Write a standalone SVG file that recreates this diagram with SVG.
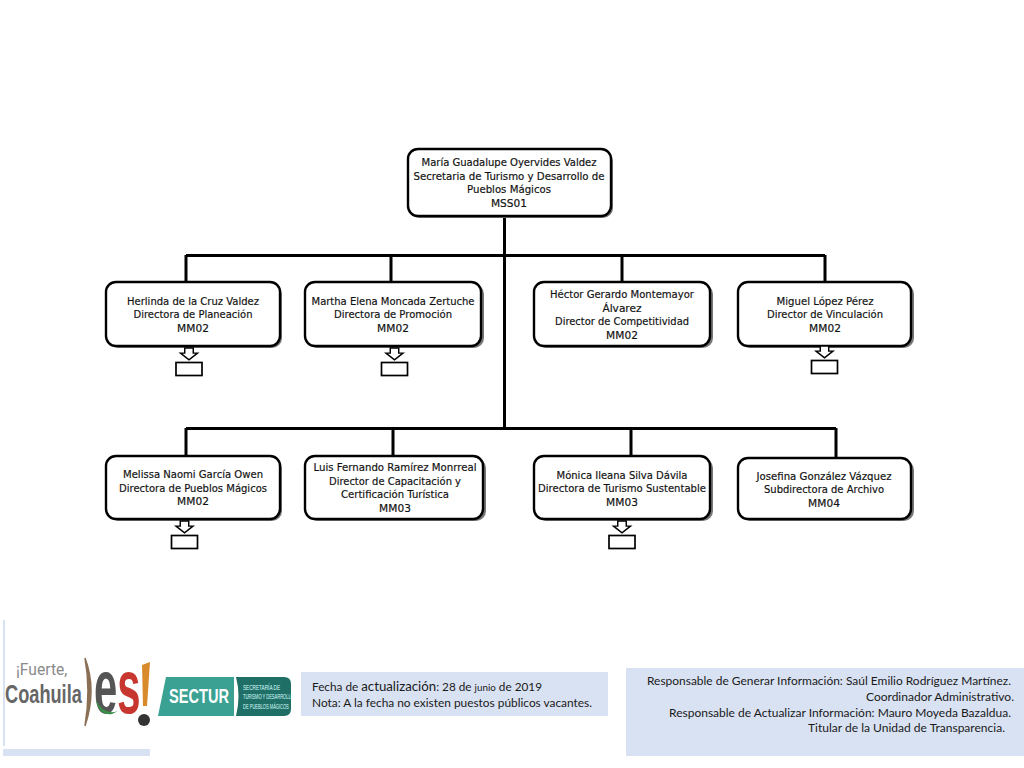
<svg xmlns="http://www.w3.org/2000/svg" width="1024" height="768" viewBox="0 0 1024 768">
<style>
.box{fill:#fff;stroke:#000;stroke-width:2.4}
.sh{fill:#777}
.t text{font-family:"DejaVu Sans",Verdana,sans-serif;font-size:10.6px;fill:#111;stroke:#111;stroke-width:.18;text-anchor:middle}
.c{stroke:#000;stroke-width:3;fill:none}
.sm{fill:#fff;stroke:#000;stroke-width:1.7}
.n text{font-family:Lato,"Open Sans",sans-serif;font-size:12px;fill:#1a1a1a}
</style>
<defs>
<g id="down"><path class="sm" d="M-5 0H5V6H10L0 14L-10 6H-5Z" transform="scale(.85 .85)"/><rect class="sm" x="-13" y="14.500" width="26" height="13"/></g>
</defs>
<rect width="1024" height="768" fill="#fff"/>
<g id="connectors">
<path class="c" d="M504.500 216V428M186 255.500H825M186 255V282M391 255V282M622 255V282M825 255V282M186 428.500H836M186 428V456M393 428V456M631 428V456M836 428V458"/>
</g>
<g id="n0" class="t"><rect class="sh" x="409" y="151" width="204" height="67" rx="10"/><rect class="box" x="408" y="149" width="203" height="67" rx="10"/>
<text x="509" y="166" textLength="175" lengthAdjust="spacingAndGlyphs">María Guadalupe Oyervides Valdez</text><text x="509" y="179.500" textLength="191" lengthAdjust="spacingAndGlyphs">Secretaria de Turismo y Desarrollo de</text><text x="509" y="193" textLength="84" lengthAdjust="spacingAndGlyphs">Pueblos Mágicos</text><text x="509" y="207">MSS01</text></g>
<g id="n1" class="t"><rect class="sh" x="108" y="284" width="174" height="64" rx="10"/><rect class="box" x="106" y="282" width="174" height="64" rx="10"/>
<text x="193" y="305" textLength="132" lengthAdjust="spacingAndGlyphs">Herlinda de la Cruz Valdez</text><text x="193" y="318" textLength="119" lengthAdjust="spacingAndGlyphs">Directora de Planeación</text><text x="193" y="332">MM02</text></g>
<g id="n2" class="t"><rect class="sh" x="307" y="284" width="177" height="64" rx="10"/><rect class="box" x="305" y="282" width="176" height="64" rx="10"/>
<text x="393" y="305" textLength="163" lengthAdjust="spacingAndGlyphs">Martha Elena Moncada Zertuche</text><text x="393" y="318" textLength="118" lengthAdjust="spacingAndGlyphs">Directora de Promoción</text><text x="393" y="332">MM02</text></g>
<g id="n3" class="t"><rect class="sh" x="536" y="284" width="177" height="64" rx="10"/><rect class="box" x="534" y="282" width="176" height="64" rx="10"/>
<text x="622" y="298" textLength="144" lengthAdjust="spacingAndGlyphs">Héctor Gerardo Montemayor</text><text x="622" y="312">Álvarez</text><text x="622" y="325" textLength="134" lengthAdjust="spacingAndGlyphs">Director de Competitividad</text><text x="622" y="339">MM02</text></g>
<g id="n4" class="t"><rect class="sh" x="740" y="284" width="174" height="64" rx="10"/><rect class="box" x="738" y="282" width="173" height="64" rx="10"/>
<text x="825" y="305" textLength="97" lengthAdjust="spacingAndGlyphs">Miguel López Pérez</text><text x="825" y="318" textLength="116" lengthAdjust="spacingAndGlyphs">Director de Vinculación</text><text x="825" y="332">MM02</text></g>
<g id="n5" class="t"><rect class="sh" x="108" y="458" width="174" height="63" rx="10"/><rect class="box" x="106" y="456" width="174" height="63" rx="10"/>
<text x="193" y="478" textLength="140" lengthAdjust="spacingAndGlyphs">Melissa Naomi García Owen</text><text x="193" y="492" textLength="148" lengthAdjust="spacingAndGlyphs">Directora de Pueblos Mágicos</text><text x="193" y="505">MM02</text></g>
<g id="n6" class="t"><rect class="sh" x="307" y="458" width="179" height="63" rx="10"/><rect class="box" x="305" y="456" width="178" height="63" rx="10"/>
<text x="395" y="471" textLength="163" lengthAdjust="spacingAndGlyphs">Luis Fernando Ramírez Monrreal</text><text x="395" y="485" textLength="132" lengthAdjust="spacingAndGlyphs">Director de Capacitación y</text><text x="395" y="498" textLength="108" lengthAdjust="spacingAndGlyphs">Certificación Turística</text><text x="395" y="512">MM03</text></g>
<g id="n7" class="t"><rect class="sh" x="536" y="458" width="177" height="63" rx="10"/><rect class="box" x="534" y="456" width="176" height="63" rx="10"/>
<text x="622" y="479" textLength="131" lengthAdjust="spacingAndGlyphs">Mónica Ileana Silva Dávila</text><text x="622" y="492" textLength="168" lengthAdjust="spacingAndGlyphs">Directora de Turismo Sustentable</text><text x="622" y="506">MM03</text></g>
<g id="n8" class="t"><rect class="sh" x="740" y="460" width="174" height="61" rx="10"/><rect class="box" x="738" y="458" width="173" height="61" rx="10"/>
<text x="824" y="480" textLength="135" lengthAdjust="spacingAndGlyphs">Josefina González Vázquez</text><text x="824" y="493" textLength="120" lengthAdjust="spacingAndGlyphs">Subdirectora de Archivo</text><text x="824" y="507">MM04</text></g>
<use id="d1" href="#down" x="189" y="348"/>
<use id="d2" href="#down" x="394.500" y="348"/>
<use id="d3" href="#down" x="824.500" y="346"/>
<use id="d4" href="#down" x="184.500" y="521"/>
<use id="d5" href="#down" x="622" y="521"/>
<g id="logo-coahuila">
<rect x="3" y="620" width="2" height="126" fill="#d9e2f3"/>
<rect x="3" y="749" width="147" height="7" fill="#d9e2f3"/>
<text transform="translate(16 675) scale(.92 1)" font-family="Roboto,sans-serif" font-size="17" fill="#8a8a8a">¡Fuerte,</text>
<text transform="translate(5 703) scale(.7 1)" font-family="'Liberation Sans',sans-serif" font-weight="700" font-size="26" fill="#666">Coahuila</text>
<path d="M85 658Q97 690 85 726Q91 690 85 658Z" fill="#8b6f55" stroke="#8b6f55" stroke-width="1.500"/>
<text transform="translate(94 713) scale(.55 1)" font-family="'Liberation Sans',sans-serif" font-weight="700" font-size="76" fill="#555">e<tspan fill="#c8372f">s</tspan></text>
<path d="M96 700Q104 716 118 711L112 714Q99 716 96 700Z" fill="#3a8f4a"/>
<path d="M142 665L150 662L147 706H143Z" fill="#d98a2b"/>
<circle cx="144" cy="720" r="6" fill="#333"/>
</g>
<g id="logo-sectur">
<path d="M166 677H234V716H158Z" fill="#3aa193"/>
<path d="M236 677H284Q291 677 291 684V709Q291 716 284 716H236Q241 696 236 677Z" fill="#1f6f66"/>
<text transform="translate(169 703) scale(.73 1)" font-family="'Liberation Sans',sans-serif" font-weight="700" font-size="20" fill="#fff">SECTUR</text>
<g font-family="'Liberation Sans',sans-serif" font-size="6.500" fill="#dff">
<text transform="translate(243 689.500) scale(.72 1)">SECRETARÍA DE</text>
<text transform="translate(243 699) scale(.62 1)">TURISMO Y DESARROLLO</text>
<text transform="translate(243 708.500) scale(.62 1)">DE PUEBLOS MÁGICOS</text>
</g>
</g>
<g id="note-date" class="n"><rect x="301" y="672" width="307" height="44" fill="#d9e2f3"/>
<text x="312" y="691" textLength="230" lengthAdjust="spacingAndGlyphs">Fecha de <tspan font-size="13.500">actualización</tspan>: 28 de <tspan font-size="10">junio</tspan> de 2019</text>
<text x="312" y="707" textLength="280" lengthAdjust="spacingAndGlyphs">Nota: A la fecha no existen puestos públicos vacantes.</text></g>
<g id="note-resp" class="n"><rect x="626" y="668" width="398" height="88" fill="#d9e2f3"/>
<text x="647" y="685" textLength="364" lengthAdjust="spacingAndGlyphs">Responsable de Generar Información: Saúl Emilio Rodríguez Martínez.</text>
<text x="866" y="701" textLength="148" lengthAdjust="spacingAndGlyphs">Coordinador Administrativo.</text>
<text x="669" y="717" textLength="342" lengthAdjust="spacingAndGlyphs">Responsable de Actualizar Información: Mauro Moyeda Bazaldua.</text>
<text x="808" y="732" textLength="197" lengthAdjust="spacingAndGlyphs">Titular de la Unidad de Transparencia.</text></g>
</svg>
